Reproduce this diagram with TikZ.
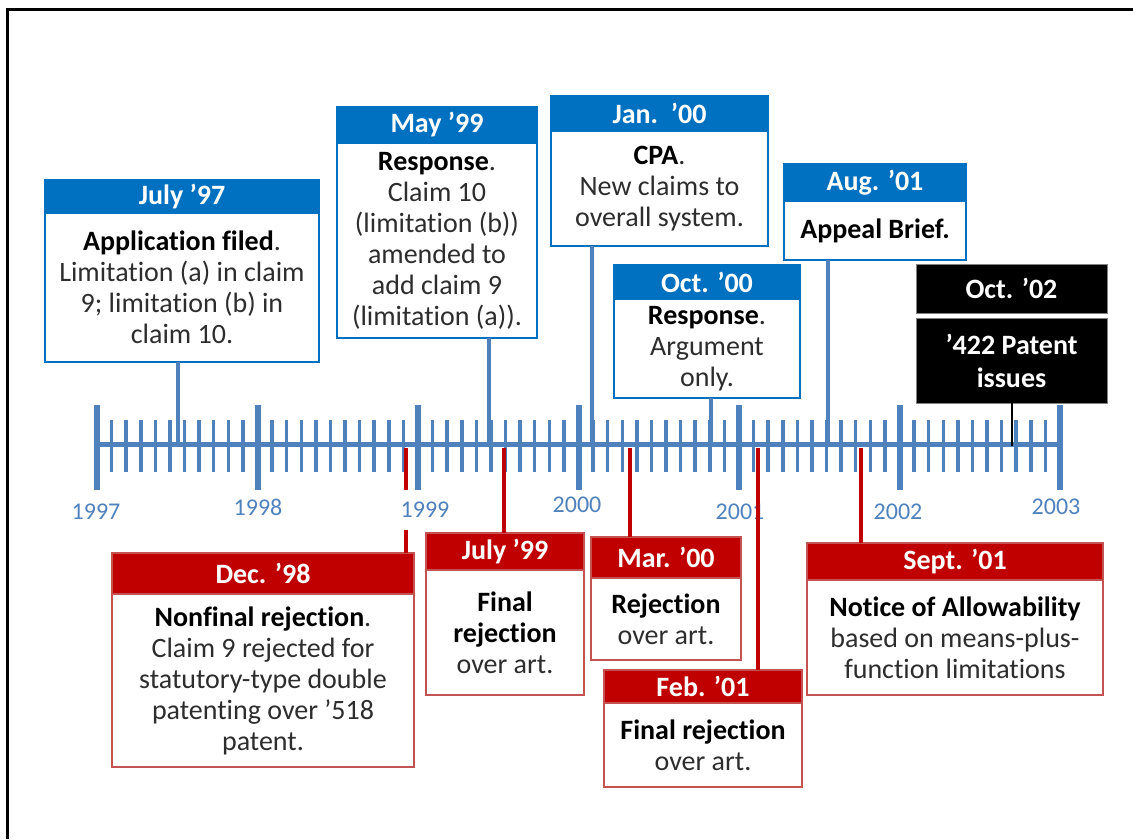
\documentclass[tikz,border=0pt]{standalone}
\usepackage{fontspec}
\setmainfont{Carlito}[Ligatures=NoCommon]
\usetikzlibrary{positioning}

\definecolor{axisblue}{RGB}{79,129,189}
\definecolor{headblue}{RGB}{0,112,192}
\definecolor{headred}{RGB}{192,0,0}
\definecolor{edgered}{RGB}{196,82,80}
\definecolor{bodytext}{RGB}{45,45,45}

\newcommand{\evlead}[1]{{\color{black}\bfseries #1}}

\tikzset{
  head/.style={draw, line width=2pt, inner sep=0pt, outer sep=0pt, anchor=north west,
    text=white, font=\bfseries\fontsize{28}{31}\selectfont},
  bluehead/.style={head, draw=headblue, fill=headblue},
  redhead/.style={head, draw=edgered, fill=headred},
  blackhead/.style={head, draw=gray, line width=1pt, fill=black},
  body/.style={draw, line width=2.5pt, fill=white, inner sep=0pt, outer sep=0pt,
    align=center, text=bodytext, font=\fontsize{28}{31}\selectfont},
  bluebody/.style={body, draw=headblue},
  redbody/.style={body, draw=edgered},
  blackbody/.style={body, draw=gray, line width=1pt, fill=black, text=white, font=\bfseries\fontsize{28}{33}\selectfont},
  yearlabel/.style={text=axisblue, font=\fontsize{24}{24}\selectfont, inner sep=1pt},
  axisline/.style={axisblue, line width=5pt},
  majortick/.style={axisblue, line width=6pt},
  minortick/.style={axisblue, line width=3.5pt},
  blueline/.style={axisblue, line width=4pt},
  redline/.style={headred, line width=4pt},
  blackline/.style={black, line width=2.5pt}
}

\begin{document}
\begin{tikzpicture}[x=1pt,y=-1pt]
  \useasboundingbox (0,0) rectangle (1133,839);
  % Frame
  \draw[line width=3pt] (7,839) -- (7,9) -- (1133,9);

  % The time axis
  \draw[axisline] (97,444) -- (1060,444);
  \foreach \k in {0,...,6}
    \draw[majortick] ({97+160.5*\k},405) -- ({97+160.5*\k},490);
  \foreach \k in {0,...,5}
    \foreach \m in {1,...,10}
      \draw[minortick] ({97+160.5*\k+14.59*\m},420) -- ++(0,52);

  % Year labels
  \node[yearlabel] (y97) at (96,512) {1997};
  \node[yearlabel] (y98) at (258,507) {1998};
  \node[yearlabel] (y00) at (577,505) {2000};
  \node[yearlabel] (y01) at (740,512) {2001};
  \node[yearlabel] (y02) at (898,512) {2002};
  \node[yearlabel] (y03) at (1056,507) {2003};

  % Points on the axis
  \coordinate (t97) at (178,444);
  \coordinate (t99) at (489,444);
  \coordinate (t00) at (592,444);
  \coordinate (to00) at (711,444);
  \coordinate (ta01) at (828,444);
  \coordinate (t02) at (1012,446);
  \coordinate (r98) at (406,448);
  \coordinate (r99) at (504,448);
  \coordinate (r00) at (630,448);
  \coordinate (rf01) at (758,448);
  \coordinate (rs01) at (861,448);

  % Upper boxes (responses)
  \node[bluehead, minimum width=274, minimum height=33] (h97) at (45,180) {July ’97};
  \node[bluebody, minimum width=274, minimum height=149, below=0pt of h97] (b97)
    {\evlead{Application filed}.\\Limitation (a) in claim\\9; limitation (b) in\\claim 10.};
  \node[bluehead, minimum width=200, minimum height=36] (h99) at (337,107) {May ’99};
  \node[bluebody, minimum width=200, minimum height=195, below=0pt of h99] (b99)
    {\evlead{Response}.\\Claim 10\\(limitation (b))\\amended to\\add claim 9\\(limitation (a)).};
  \node[bluehead, minimum width=217, minimum height=35] (h00) at (551,96) {Jan.~~’00};
  \node[bluebody, minimum width=217, minimum height=115, below=0pt of h00] (b00)
    {\evlead{CPA}.\\New claims to\\overall system.};
  \node[bluehead, minimum width=186, minimum height=34] (ho00) at (614,265) {Oct. ’00};
  \node[bluebody, minimum width=186, minimum height=99, below=0pt of ho00] (bo00)
    {\evlead{Response}.\\Argument\\only.};
  \node[bluehead, minimum width=182, minimum height=37] (ha01) at (784,164) {Aug. ’01};
  \node[bluebody, minimum width=182, minimum height=59, below=0pt of ha01] (ba01)
    {\evlead{Appeal Brief.}};
  \node[blackhead, minimum width=191, minimum height=49] (h02) at (916,264) {Oct. ’02};
  \node[blackbody, minimum width=191, minimum height=85, below=5pt of h02] (b02)
    {’422 Patent\\issues};

  % Lower boxes (office actions)
  \node[redhead, minimum width=302, minimum height=41] (h98) at (112,553) {Dec. ’98};
  \node[redbody, minimum width=302, minimum height=173, below=0pt of h98] (b98)
    {\evlead{Nonfinal rejection}.\\Claim 9 rejected for\\statutory-type double\\patenting over ’518\\patent.};
  \node[redhead, minimum width=158, minimum height=37] (hj99) at (426,533) {July ’99};
  \node[redbody, minimum width=158, minimum height=125, below=0pt of hj99] (bj99)
    {\evlead{Final}\\\evlead{rejection}\\over art.};
  \node[redhead, minimum width=150, minimum height=41] (hm00) at (591,537) {Mar. ’00};
  \node[redbody, minimum width=150, minimum height=82, below=0pt of hm00] (bm00)
    {\evlead{Rejection}\\over art.};
  \node[redhead, minimum width=198, minimum height=33] (hf01) at (604,670) {Feb. ’01};
  \node[redbody, minimum width=198, minimum height=84, below=0pt of hf01] (bf01)
    {\evlead{Final rejection}\\over art.};
  \node[redhead, minimum width=296, minimum height=37] (hs01) at (807,543) {Sept. ’01};
  \node[redbody, minimum width=296, minimum height=115, below=0pt of hs01] (bs01)
    {\evlead{Notice of Allowability}\\based on means-plus-\\function limitations};

  % The lines!
  \draw[blueline] (b97.south -| t97) -- (t97);
  \draw[blueline] (b99.south -| t99) -- (t99);
  \draw[blueline] (b00.south -| t00) -- (t00);
  \draw[blueline] (bo00.south -| to00) -- (to00);
  \draw[blueline] (ba01.south -| ta01) -- (ta01);
  \draw[blackline] (b02.south -| t02) -- (t02);
  \draw[redline] (r98) -- (h98.north -| r98);
  \draw[redline] (r99) -- (hj99.north -| r99);
  \draw[redline] (r00) -- (hm00.north -| r00);
  \draw[redline] (rf01) -- (hf01.north -| rf01);
  \draw[redline] (rs01) -- (hs01.north -| rs01);

  % 1999 label sits over the Dec. '98 line
  \node[yearlabel, fill=white, minimum height=40] (y99) at (425,510) {1999};
\end{tikzpicture}
\end{document}
